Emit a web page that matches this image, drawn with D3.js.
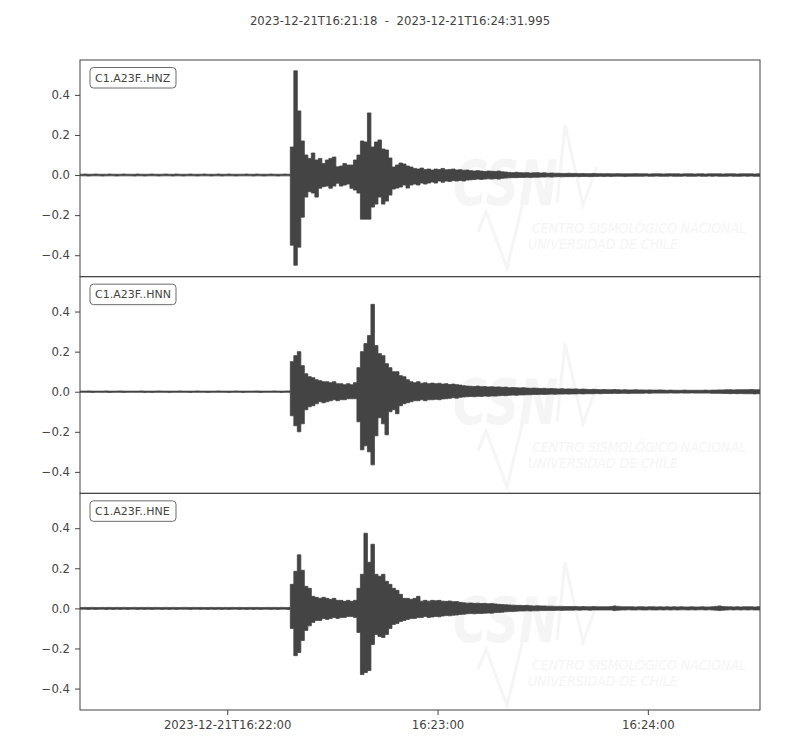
<!DOCTYPE html>
<html>
<head>
<meta charset="utf-8">
<script src="https://cdn.jsdelivr.net/npm/d3@7"></script>
<style>
body { margin: 0; background: #fff; }
text { font-family: "DejaVu Sans", sans-serif; }
</style>
</head>
<body>
<div id="chart"></div>
<script>
// trace ids, one panel each
var channels = ["C1.A23F..HNZ", "C1.A23F..HNN", "C1.A23F..HNE"];
var startTime = "2023-12-21T16:21:18";
var endTime = "2023-12-21T16:24:31.995";
var xTickTimes = ["2023-12-21T16:22:00", "2023-12-21T16:23:00", "2023-12-21T16:24:00"];
var xTickLabels = ["2023-12-21T16:22:00", "16:23:00", "16:24:00"];
var yTicks = [-0.4, -0.2, 0.0, 0.2, 0.4];
var yRange = [-0.507, 0.574];

// min / max of each trace in 1 s bins
var hnzMax = [
0.004,0.005,0.004,0.004,0.005,0.004,0.004,0.004,0.005,0.004,
0.004,0.004,0.005,0.004,0.004,0.004,0.005,0.004,0.004,0.004,
0.005,0.004,0.004,0.004,0.005,0.004,0.004,0.005,0.004,0.004,
0.004,0.005,0.004,0.004,0.004,0.005,0.004,0.004,0.004,0.005,
0.004,0.004,0.005,0.004,0.004,0.004,0.004,0.005,0.004,0.004,
0.005,0.004,0.004,0.004,0.005,0.004,0.004,0.004,0.005,0.004,
0.14,0.52,0.32,0.17,0.10,0.083,0.11,0.075,0.083,0.058,
0.075,0.083,0.09,0.041,0.045,0.058,0.05,0.05,0.075,0.10,
0.17,0.165,0.31,0.14,0.165,0.175,0.13,0.125,0.085,0.04,
0.05,0.06,0.055,0.045,0.04,0.033,0.03,0.035,0.028,0.03,
0.025,0.03,0.028,0.033,0.026,0.028,0.03,0.025,0.027,0.024,
0.025,0.022,0.02,0.022,0.02,0.018,0.02,0.019,0.018,0.02,
0.016,0.015,0.013,0.012,0.014,0.012,0.011,0.012,0.010,0.011,
0.012,0.010,0.011,0.009,0.010,0.009,0.009,0.008,0.008,0.009,
0.008,0.008,0.007,0.008,0.007,0.007,0.008,0.007,0.007,0.006,
0.007,0.006,0.006,0.007,0.006,0.006,0.006,0.006,0.007,0.006,
0.006,0.006,0.005,0.006,0.006,0.006,0.005,0.006,0.006,0.006,
0.006,0.005,0.006,0.006,0.006,0.005,0.006,0.006,0.005,0.006,
0.006,0.006,0.006,0.005,0.006,0.006,0.006,0.005,0.006,0.006,
0.006,0.006,0.005,0.006];
var hnzMin = [
-0.004,-0.004,-0.005,-0.004,-0.004,-0.004,-0.005,-0.004,-0.004,-0.004,
-0.005,-0.004,-0.004,-0.004,-0.004,-0.005,-0.004,-0.004,-0.005,-0.004,
-0.004,-0.004,-0.005,-0.004,-0.004,-0.004,-0.005,-0.004,-0.004,-0.005,
-0.004,-0.004,-0.004,-0.005,-0.004,-0.004,-0.004,-0.005,-0.004,-0.004,
-0.005,-0.004,-0.004,-0.004,-0.005,-0.004,-0.004,-0.004,-0.004,-0.005,
-0.004,-0.004,-0.005,-0.004,-0.004,-0.004,-0.005,-0.004,-0.004,-0.004,
-0.35,-0.45,-0.36,-0.21,-0.11,-0.083,-0.09,-0.11,-0.066,-0.058,
-0.055,-0.066,-0.055,-0.041,-0.055,-0.05,-0.045,-0.066,-0.075,-0.09,
-0.22,-0.22,-0.22,-0.16,-0.145,-0.11,-0.145,-0.13,-0.10,-0.07,
-0.065,-0.06,-0.05,-0.065,-0.05,-0.045,-0.05,-0.04,-0.045,-0.04,
-0.035,-0.04,-0.03,-0.036,-0.03,-0.032,-0.028,-0.03,-0.027,-0.03,
-0.025,-0.024,-0.022,-0.02,-0.022,-0.02,-0.019,-0.02,-0.018,-0.02,
-0.016,-0.015,-0.014,-0.013,-0.013,-0.012,-0.012,-0.011,-0.012,-0.011,
-0.011,-0.010,-0.010,-0.009,-0.010,-0.009,-0.008,-0.009,-0.008,-0.008,
-0.008,-0.007,-0.008,-0.007,-0.007,-0.008,-0.007,-0.007,-0.006,-0.007,
-0.006,-0.007,-0.006,-0.006,-0.006,-0.007,-0.006,-0.006,-0.006,-0.006,
-0.006,-0.005,-0.006,-0.006,-0.005,-0.006,-0.006,-0.006,-0.005,-0.006,
-0.006,-0.006,-0.005,-0.006,-0.006,-0.006,-0.005,-0.006,-0.006,-0.005,
-0.006,-0.005,-0.006,-0.006,-0.006,-0.005,-0.006,-0.006,-0.006,-0.005,
-0.006,-0.005,-0.006,-0.006];

var hnnMax = [
0.003,0.003,0.004,0.003,0.003,0.003,0.003,0.004,0.003,0.003,
0.003,0.004,0.003,0.003,0.003,0.003,0.003,0.004,0.003,0.003,
0.003,0.003,0.004,0.003,0.003,0.003,0.003,0.003,0.004,0.003,
0.003,0.003,0.003,0.004,0.003,0.003,0.003,0.003,0.003,0.004,
0.003,0.003,0.003,0.003,0.004,0.003,0.003,0.003,0.003,0.003,
0.004,0.003,0.003,0.003,0.003,0.004,0.003,0.003,0.003,0.004,
0.15,0.18,0.20,0.13,0.09,0.075,0.07,0.06,0.055,0.05,
0.05,0.045,0.05,0.04,0.04,0.035,0.04,0.035,0.045,0.12,
0.20,0.24,0.28,0.436,0.23,0.19,0.18,0.14,0.12,0.10,
0.10,0.08,0.075,0.06,0.05,0.045,0.05,0.042,0.045,0.04,
0.043,0.04,0.042,0.038,0.04,0.036,0.038,0.035,0.033,0.03,
0.028,0.027,0.026,0.028,0.025,0.026,0.024,0.025,0.023,0.024,
0.022,0.023,0.02,0.021,0.02,0.019,0.02,0.018,0.017,0.018,
0.017,0.016,0.017,0.015,0.016,0.015,0.014,0.015,0.013,0.014,
0.013,0.014,0.012,0.013,0.012,0.011,0.012,0.011,0.010,0.011,
0.010,0.010,0.011,0.010,0.009,0.010,0.009,0.009,0.010,0.009,
0.009,0.008,0.009,0.008,0.008,0.009,0.008,0.007,0.008,0.007,
0.007,0.007,0.008,0.007,0.007,0.007,0.007,0.007,0.008,0.007,
0.008,0.008,0.009,0.009,0.010,0.010,0.009,0.010,0.010,0.010,
0.010,0.011,0.010,0.010];
var hnnMin = [
-0.003,-0.003,-0.003,-0.004,-0.003,-0.003,-0.003,-0.003,-0.004,-0.003,
-0.003,-0.003,-0.004,-0.003,-0.003,-0.003,-0.003,-0.003,-0.004,-0.003,
-0.004,-0.003,-0.003,-0.003,-0.003,-0.004,-0.003,-0.003,-0.003,-0.003,
-0.003,-0.004,-0.003,-0.003,-0.003,-0.003,-0.004,-0.003,-0.003,-0.003,
-0.003,-0.003,-0.004,-0.003,-0.003,-0.003,-0.004,-0.003,-0.003,-0.003,
-0.003,-0.004,-0.003,-0.003,-0.003,-0.003,-0.003,-0.004,-0.003,-0.003,
-0.12,-0.17,-0.20,-0.16,-0.09,-0.075,-0.07,-0.06,-0.05,-0.055,
-0.05,-0.045,-0.04,-0.045,-0.04,-0.04,-0.035,-0.035,-0.035,-0.15,
-0.29,-0.27,-0.30,-0.365,-0.22,-0.13,-0.16,-0.215,-0.10,-0.09,
-0.11,-0.07,-0.06,-0.055,-0.05,-0.045,-0.045,-0.04,-0.045,-0.04,
-0.04,-0.038,-0.04,-0.036,-0.035,-0.033,-0.03,-0.032,-0.028,-0.026,
-0.025,-0.024,-0.025,-0.023,-0.024,-0.022,-0.023,-0.021,-0.022,-0.02,
-0.019,-0.02,-0.018,-0.017,-0.018,-0.016,-0.016,-0.015,-0.015,-0.014,
-0.014,-0.013,-0.014,-0.013,-0.012,-0.013,-0.012,-0.012,-0.011,-0.012,
-0.011,-0.011,-0.010,-0.011,-0.010,-0.010,-0.010,-0.009,-0.010,-0.009,
-0.009,-0.009,-0.008,-0.009,-0.008,-0.008,-0.009,-0.008,-0.008,-0.008,
-0.008,-0.007,-0.008,-0.007,-0.007,-0.007,-0.007,-0.007,-0.006,-0.007,
-0.007,-0.006,-0.007,-0.007,-0.006,-0.007,-0.007,-0.007,-0.007,-0.007,
-0.008,-0.008,-0.008,-0.009,-0.009,-0.010,-0.009,-0.010,-0.009,-0.010,
-0.010,-0.010,-0.011,-0.010];

var hneMax = [
0.004,0.005,0.004,0.005,0.004,0.004,0.005,0.004,0.005,0.004,
0.005,0.004,0.005,0.004,0.004,0.005,0.004,0.005,0.004,0.005,
0.004,0.005,0.004,0.004,0.005,0.004,0.005,0.004,0.004,0.005,
0.005,0.004,0.005,0.004,0.005,0.004,0.004,0.005,0.004,0.005,
0.004,0.005,0.004,0.005,0.004,0.005,0.004,0.004,0.005,0.004,
0.005,0.004,0.004,0.005,0.004,0.005,0.004,0.005,0.004,0.004,
0.12,0.185,0.267,0.19,0.11,0.10,0.06,0.055,0.05,0.055,
0.05,0.045,0.05,0.04,0.04,0.035,0.04,0.035,0.04,0.10,
0.17,0.375,0.23,0.32,0.17,0.16,0.17,0.135,0.12,0.10,
0.09,0.07,0.05,0.05,0.045,0.05,0.06,0.036,0.04,0.036,
0.04,0.038,0.04,0.036,0.035,0.037,0.033,0.034,0.03,0.028,
0.026,0.027,0.025,0.026,0.024,0.025,0.023,0.024,0.022,0.02,
0.019,0.018,0.017,0.016,0.015,0.015,0.014,0.015,0.013,0.012,
0.013,0.012,0.012,0.011,0.011,0.010,0.010,0.010,0.009,0.009,
0.009,0.009,0.008,0.009,0.008,0.008,0.009,0.008,0.008,0.008,
0.008,0.009,0.012,0.010,0.008,0.008,0.008,0.008,0.007,0.008,
0.008,0.007,0.008,0.008,0.007,0.008,0.007,0.008,0.007,0.008,
0.007,0.008,0.007,0.007,0.008,0.007,0.007,0.008,0.007,0.007,
0.008,0.010,0.012,0.009,0.008,0.008,0.007,0.008,0.007,0.008,
0.008,0.008,0.007,0.008];
var hneMin = [
-0.004,-0.004,-0.005,-0.004,-0.005,-0.004,-0.004,-0.005,-0.004,-0.005,
-0.004,-0.005,-0.004,-0.005,-0.004,-0.004,-0.005,-0.004,-0.005,-0.004,
-0.005,-0.004,-0.004,-0.005,-0.004,-0.005,-0.004,-0.005,-0.004,-0.004,
-0.004,-0.005,-0.004,-0.004,-0.005,-0.004,-0.005,-0.004,-0.005,-0.004,
-0.005,-0.004,-0.005,-0.004,-0.004,-0.005,-0.004,-0.005,-0.004,-0.005,
-0.004,-0.005,-0.004,-0.004,-0.005,-0.004,-0.005,-0.004,-0.004,-0.005,
-0.10,-0.236,-0.22,-0.16,-0.11,-0.087,-0.07,-0.06,-0.06,-0.05,
-0.055,-0.05,-0.045,-0.05,-0.045,-0.045,-0.04,-0.04,-0.045,-0.12,
-0.33,-0.32,-0.31,-0.18,-0.13,-0.14,-0.145,-0.13,-0.10,-0.08,
-0.075,-0.065,-0.06,-0.055,-0.05,-0.05,-0.045,-0.045,-0.04,-0.045,
-0.043,-0.04,-0.042,-0.038,-0.036,-0.037,-0.034,-0.033,-0.03,-0.029,
-0.027,-0.026,-0.027,-0.025,-0.026,-0.024,-0.023,-0.024,-0.021,-0.02,
-0.019,-0.017,-0.016,-0.016,-0.014,-0.013,-0.013,-0.012,-0.013,-0.012,
-0.012,-0.011,-0.011,-0.010,-0.010,-0.010,-0.009,-0.010,-0.009,-0.009,
-0.009,-0.008,-0.009,-0.008,-0.008,-0.009,-0.008,-0.008,-0.008,-0.008,
-0.008,-0.008,-0.011,-0.009,-0.008,-0.008,-0.007,-0.008,-0.008,-0.007,
-0.008,-0.008,-0.007,-0.008,-0.008,-0.007,-0.008,-0.007,-0.008,-0.007,
-0.008,-0.007,-0.007,-0.008,-0.007,-0.008,-0.007,-0.007,-0.008,-0.007,
-0.008,-0.009,-0.011,-0.009,-0.008,-0.007,-0.008,-0.007,-0.008,-0.007,
-0.008,-0.007,-0.008,-0.008];

var traces = [
  {id: channels[0], max: hnzMax, min: hnzMin},
  {id: channels[1], max: hnnMax, min: hnnMin},
  {id: channels[2], max: hneMax, min: hneMin}
];

var svgWidth = 800;
var svgHeight = 750;
var margin = {top: 60, right: 40, bottom: 40, left: 80};
var width = svgWidth - margin.left - margin.right;
var height = svgHeight - margin.top - margin.bottom;
var panelH = height / traces.length;
var ink = "#444444";
var faint = "#f5f5f5";

var svg = d3.select("#chart")
  .append("svg")
  .attr("width", svgWidth)
  .attr("height", svgHeight);

var t0 = new Date(startTime + "Z");
var t1 = new Date(endTime + "Z");

var x = d3.scaleUtc()
  .domain([t0, t1])
  .range([0, width]);

svg.append("text")
  .attr("x", svgWidth / 2)
  .attr("y", 25)
  .attr("text-anchor", "middle")
  .style("font-size", "11.7px")
  .style("white-space", "pre")
  .attr("fill", ink)
  .text(startTime + "  -  " + endTime);

var chart = svg.append("g")
  .attr("transform", "translate(" + margin.left + "," + margin.top + ")");

traces.forEach(function(tr, i) {
  var g = chart.append("g")
    .attr("transform", "translate(0," + (i * panelH) + ")");

  var y = d3.scaleLinear()
    .domain(yRange)
    .range([panelH, 0]);

  g.append("clipPath")
    .attr("id", "clip" + i)
    .append("rect")
    .attr("width", width)
    .attr("height", panelH);

  // faint CSN watermark
  var wm = g.append("g")
    .attr("transform", "translate(0," + (i * 2) + ")");
  wm.append("text")
    .attr("x", 373).attr("y", 145)
    .attr("textLength", 105).attr("lengthAdjust", "spacingAndGlyphs")
    .style("font-size", "62px").style("font-weight", "bold").style("font-style", "italic")
    .attr("fill", faint)
    .text("CSN");
  wm.append("path")
    .attr("d", "M477,143L485,65L503,145L517,107")
    .attr("fill", "none").attr("stroke", faint).attr("stroke-width", 3);
  wm.append("path")
    .attr("d", "M398,172L406,152L427,208L443,142")
    .attr("fill", "none").attr("stroke", faint).attr("stroke-width", 3);
  wm.append("text")
    .attr("x", 452).attr("y", 173)
    .attr("textLength", 214).attr("lengthAdjust", "spacingAndGlyphs")
    .style("font-size", "14px").style("font-style", "italic")
    .attr("fill", faint)
    .text("CENTRO SISMOLÓGICO NACIONAL");
  wm.append("text")
    .attr("x", 448).attr("y", 189)
    .attr("textLength", 150).attr("lengthAdjust", "spacingAndGlyphs")
    .style("font-size", "14px").style("font-style", "italic")
    .attr("fill", faint)
    .text("UNIVERSIDAD DE CHILE");

  // each 1 s bin drawn as a filled column from its min to its max
  var bins = tr.max.map(function(d, k) {
    return {t: new Date(t0.getTime() + k * 1000), hi: d, lo: tr.min[k]};
  });
  bins.push({t: t1, hi: tr.max[tr.max.length - 1], lo: tr.min[tr.min.length - 1]});

  var area = d3.area()
    .curve(d3.curveStepAfter)
    .x(function(d) { return x(d.t); })
    .y0(function(d) { return y(d.lo); })
    .y1(function(d) { return y(d.hi); });

  g.append("path")
    .datum(bins)
    .attr("clip-path", "url(#clip" + i + ")")
    .attr("d", area)
    .attr("fill", ink)
    .attr("stroke", ink)
    .attr("stroke-width", 0.8)
    .attr("stroke-linejoin", "miter");

  var yAxis = g.append("g")
    .call(d3.axisLeft(y).tickValues(yTicks).tickSize(5).tickPadding(5).tickFormat(d3.format(".1f")));
  yAxis.select(".domain").remove();
  yAxis.selectAll("line").attr("stroke", ink);
  yAxis.selectAll("text").attr("fill", ink).style("font-size", "11.7px").style("font-family", "DejaVu Sans");

  g.append("rect")
    .attr("width", width)
    .attr("height", panelH)
    .attr("fill", "none")
    .attr("stroke", ink)
    .attr("stroke-width", 1);

  // trace label box
  var lab = g.append("g").attr("transform", "translate(10,7.5)");
  lab.append("rect")
    .attr("width", 86).attr("height", 20.5)
    .attr("rx", 3.5)
    .attr("fill", "#fff")
    .attr("stroke", "#6b6b6b")
    .attr("stroke-width", 1);
  lab.append("text")
    .attr("x", 5).attr("y", 14.3)
    .style("font-size", "11px")
    .attr("fill", ink)
    .text(tr.id);
});

var xAxis = chart.append("g")
  .attr("transform", "translate(0," + height + ")")
  .call(d3.axisBottom(x)
    .tickValues(xTickTimes.map(function(s) { return new Date(s + "Z"); }))
    .tickSize(5).tickPadding(6)
    .tickFormat(function(d, k) { return xTickLabels[k]; }));
xAxis.select(".domain").remove();
xAxis.selectAll("line").attr("stroke", ink);
xAxis.selectAll("text").attr("fill", ink).style("font-size", "11.7px").style("font-family", "DejaVu Sans");
</script>
</body>
</html>
